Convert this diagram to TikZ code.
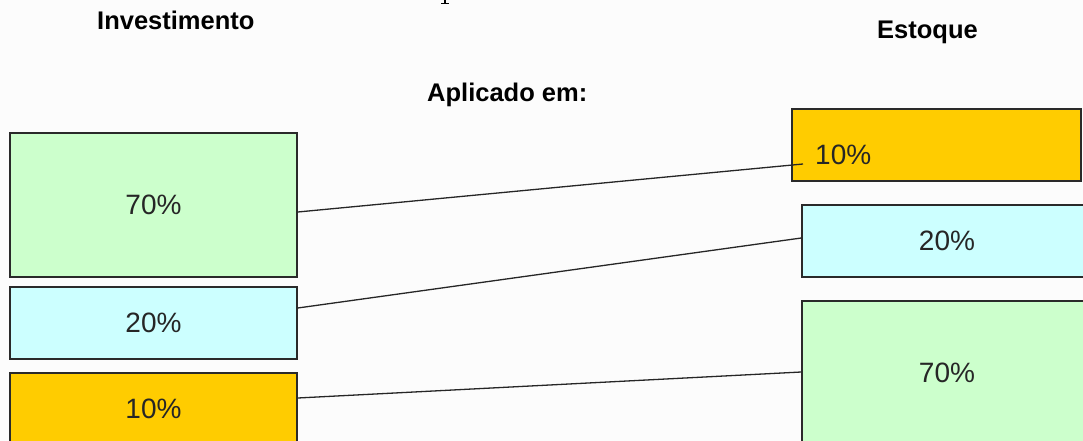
\documentclass[tikz,border=0pt]{standalone}
\usepackage{fontspec}
\setmainfont{Liberation Sans}
\definecolor{boxgreen}{HTML}{CCFFCC}
\definecolor{boxcyan}{HTML}{CCFFFF}
\definecolor{boxorange}{HTML}{FFCC00}
\definecolor{edge}{HTML}{2A2A2A}
\tikzset{
  pbox/.style={draw=edge, line width=1.5pt, rectangle, inner sep=0pt, font=\fontsize{28}{30}\selectfont, text=black!85},
  title/.style={font=\bfseries\fontsize{25.5}{28}\selectfont, inner sep=0pt, anchor=base west},
  conn/.style={draw=black!85, line width=1.3pt},
}
\begin{document}
\begin{tikzpicture}[x=1pt,y=-1pt]
\useasboundingbox (0,0) rectangle (1083,441);
\clip (0,0) rectangle (1083,441);
\fill[white!99!black] (0,0) rectangle (1083,441);
% fragment of cut-off text at top
\draw[line width=1.2pt] (445,0) -- (445,3.6);
\draw[line width=1.2pt] (441,3.8) -- (449,3.8);
% titles
\node[title] (tinv) at (97,30) {Investimento};
\node[title] (test) at (877,39) {Estoque};
\node[title] (tapl) at (427,102) {Aplicado em:};
% left boxes
\node[pbox, fill=boxgreen, minimum width=287pt, minimum height=144pt] (l70) at (153.5,205) {70\%};
\node[pbox, fill=boxcyan, minimum width=287pt, minimum height=72pt] (l20) at (153.5,323) {20\%};
\node[pbox, fill=boxorange, minimum width=287pt, minimum height=72pt] (l10) at (153.5,409) {10\%};
% right boxes
\node[pbox, fill=boxorange, minimum width=289pt, minimum height=72pt] (r10) at (936.5,145) {};
\node[font=\fontsize{28}{30}\selectfont, text=black!85, inner sep=0pt, anchor=west] (r10t) at (815,155) {10\%};
\node[pbox, fill=boxcyan, minimum width=290pt, minimum height=72pt] (r20) at (947,241) {20\%};
\node[pbox, fill=boxgreen, minimum width=290pt, minimum height=144pt] (r70) at (947,373) {70\%};
% connectors
\coordinate (e1) at (803,164);
\draw[conn] ([yshift=-7pt]l70.east) -- (e1);
\draw[conn] ([yshift=15pt]l20.east) -- ([yshift=3pt]r20.west);
\draw[conn] ([yshift=11pt]l10.east) -- ([yshift=1pt]r70.west);
\end{tikzpicture}
\end{document}
